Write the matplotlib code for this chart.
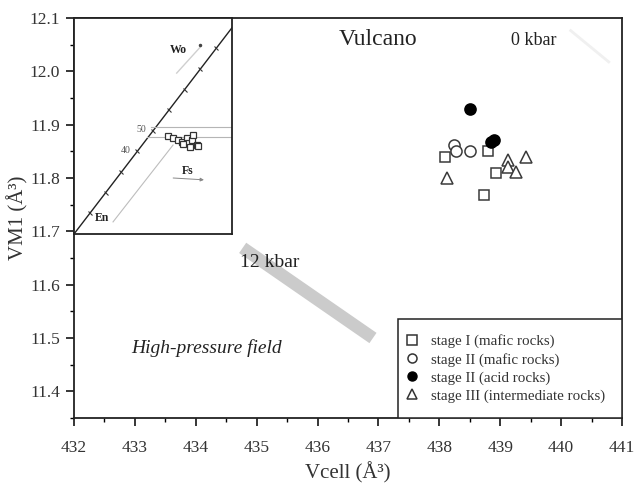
import matplotlib
matplotlib.use("Agg")
import matplotlib.pyplot as plt
from matplotlib.markers import MarkerStyle
from matplotlib.transforms import Affine2D
from matplotlib.patches import Rectangle
from matplotlib.lines import Line2D

plt.rcParams['font.family'] = ['Liberation Serif', 'DejaVu Serif']

# --- clinopyroxene cell parameters: Vcell (Å^3) vs VM1 (Å^3) ---
stage1_mafic_vcell = [438.09, 438.80, 438.93, 438.74]
stage1_mafic_vm1 = [11.839, 11.850, 11.810, 11.769]

stage2_mafic_vcell = [438.24, 438.27, 438.51]
stage2_mafic_vm1 = [11.861, 11.850, 11.850]

stage2_acid_vcell = [438.50, 438.85, 438.90]
stage2_acid_vm1 = [11.929, 11.868, 11.872]

stage3_inter_vcell = [438.12, 439.42, 439.13, 439.13, 439.26]
stage3_inter_vm1 = [11.800, 11.840, 11.833, 11.821, 11.812]

series_labels = ["stage I (mafic rocks)", "stage II (mafic rocks)",
                 "stage II (acid rocks)", "stage III (intermediate rocks)"]

# isobars (Vcell, VM1 end points)
isobar_12kbar_vcell = [434.77, 436.91]
isobar_12kbar_vm1 = [11.669, 11.500]
isobar_0kbar_vcell = [440.14, 440.80]
isobar_0kbar_vm1 = [12.078, 12.016]

x_ticks = [432, 433, 434, 435, 436, 437, 438, 439, 440, 441]
y_ticks = [11.4, 11.5, 11.6, 11.7, 11.8, 11.9, 12.0, 12.1]

# --- inset: pyroxene quadrilateral sketch (relative coordinates) ---
inset_sq_x = [0.595, 0.627, 0.658, 0.684, 0.715, 0.722, 0.747, 0.753, 0.778, 0.785, 0.690, 0.734]
inset_sq_y = [0.454, 0.444, 0.435, 0.426, 0.444, 0.421, 0.435, 0.458, 0.412, 0.407, 0.417, 0.403]
diag_end = (1.0, 0.955)
diag_ticks = [0.1, 0.2, 0.3, 0.4, 0.5, 0.6, 0.7, 0.8, 0.9]
diag_tick_labels = {0.4: "40", 0.5: "50"}

fig = plt.figure(figsize=(6.35, 4.87), dpi=100)
ax = fig.add_axes([74/635, 1-418/487, 548/635, 400/487])

ax.plot(isobar_12kbar_vcell, isobar_12kbar_vm1, color='#cbcbcb', lw=9,
        solid_capstyle='butt', zorder=1)
ax.plot(isobar_0kbar_vcell, isobar_0kbar_vm1, color='#f0f0f0', lw=2.0,
        solid_capstyle='butt', zorder=1)

mk = dict(linestyle='none', markeredgewidth=1.1)
h1, = ax.plot(stage1_mafic_vcell, stage1_mafic_vm1, marker='s', ms=7,
              mfc='white', mec='#3a3a3a', **mk)
h2, = ax.plot(stage2_mafic_vcell, stage2_mafic_vm1, marker='o', ms=8,
              mfc='white', mec='#3a3a3a', **mk)
h3, = ax.plot(stage2_acid_vcell, stage2_acid_vm1, marker='o', ms=8,
              mfc='black', mec='black', **mk)
h4, = ax.plot(stage3_inter_vcell, stage3_inter_vm1, marker='^', ms=8,
              mfc='white', mec='#3a3a3a', **mk)

ax.set_xlim(432, 441)
ax.set_ylim(11.35, 12.1)
ax.set_xticks(x_ticks)
ax.set_xticklabels([str(v) for v in x_ticks])
ax.set_yticks(y_ticks)
ax.set_yticklabels([f"{v:.1f}" for v in y_ticks])
ax.set_xticks([v + 0.5 for v in x_ticks[:-1]], minor=True)
ax.set_yticks([11.35 + 0.1 * i for i in range(8)], minor=True)
ax.tick_params(which='major', direction='out', length=6, width=1.1,
               labelsize=12.5, labelcolor='#333333', top=False, right=False)
ax.tick_params(axis='x', which='major', pad=10)
ax.tick_params(axis='y', which='major', pad=4)
ax.tick_params(which='minor', direction='out', length=3, width=1.0,
               top=False, right=False)
for s in ax.spines.values():
    s.set_linewidth(1.3)
    s.set_color('#222222')

ax.set_xlabel("Vcell (Å³)", fontsize=15, color='#333333', labelpad=4)
ax.set_ylabel("VM1 (Å³)", fontsize=15, color='#333333', labelpad=1)

ax.text(436.99, 12.059, "Vulcano", fontsize=17, ha='center', va='center', color='#222222')
ax.text(439.55, 12.057, "0 kbar", fontsize=13, ha='center', va='center', color='#222222')
ax.text(435.22, 11.641, "12 kbar", fontsize=14, ha='center', va='center', color='#222222')
ax.text(434.18, 11.482, "High-pressure field", fontsize=14, style='italic',
        ha='center', va='center', color='#222222')

# legend with a square black frame in the lower-right corner
lx0 = (398 - 74) / 548
ly1 = (418 - 319) / 400
ax.add_patch(Rectangle((lx0, 0), 1 - lx0, ly1, transform=ax.transAxes,
                       facecolor='white', edgecolor='#222222', lw=1.1, zorder=3))
handles = [Line2D([], [], marker='s', ms=6.5, mfc='white', mec='#333333', mew=1.1, ls='none'),
           Line2D([], [], marker='o', ms=6.5, mfc='white', mec='#333333', mew=1.1, ls='none'),
           Line2D([], [], marker='o', ms=6.5, mfc='black', mec='black', ls='none'),
           Line2D([], [], marker='^', ms=6.5, mfc='white', mec='#333333', mew=1.1, ls='none')]
leg = ax.legend(handles, series_labels, loc='center left',
                bbox_to_anchor=(lx0, ly1 / 2), frameon=False, fontsize=10.8,
                handlelength=1.0, handletextpad=0.8, labelspacing=0.3,
                borderpad=0.2, borderaxespad=0.2)
leg.set_zorder(4)
for t in leg.get_texts():
    t.set_color('#333333')

# --- inset ---
ins = fig.add_axes([74/635, 1-234/487, 158/635, 216/487])
ins.set_xlim(0, 1)
ins.set_ylim(0, 1)
ins.set_xticks([])
ins.set_yticks([])
for s in ins.spines.values():
    s.set_linewidth(1.3)
    s.set_color('#222222')

ins.plot([0, diag_end[0]], [0, diag_end[1]], color='#222222', lw=1.0)
tick_marker = MarkerStyle('_', transform=Affine2D().rotate_deg(143))
ins.plot([t * diag_end[0] for t in diag_ticks], [t * diag_end[1] for t in diag_ticks],
         ls='none', marker=tick_marker, ms=4, mew=0.8, color='#333333')
for t, lab in diag_tick_labels.items():
    ins.text(t * diag_end[0] - 0.04, t * diag_end[1] + 0.005, lab, fontsize=7,
             ha='right', va='center', color='#555555')

ins.plot([0.49, 1.0], [0.495, 0.495], color='#b5b5b5', lw=0.8)
ins.plot([0.46, 1.0], [0.449, 0.449], color='#b5b5b5', lw=0.8)
ins.plot([0.247, 0.627], [0.056, 0.412], color='#bdbdbd', lw=0.8)
ins.plot([0.65, 0.80], [0.745, 0.866], color='#cfcfcf', lw=1.0)
ins.plot([0.80], [0.876], marker='o', ms=1.5, color='#444444')
ins.annotate("", xy=(0.84, 0.25), xytext=(0.61, 0.26),
             arrowprops=dict(arrowstyle='-|>', color='#888888', lw=0.7,
                             mutation_scale=5))

ins.plot(inset_sq_x, inset_sq_y, ls='none', marker='s', ms=5, mfc='white',
         mec='#333333', mew=0.9)

ins.text(0.66, 0.85, "Wo", fontsize=8.5, fontweight='bold', ha='center', va='center', color='#222222')
ins.text(0.72, 0.29, "Fs", fontsize=8.5, fontweight='bold', ha='center', va='center', color='#222222')
ins.text(0.18, 0.074, "En", fontsize=8.5, fontweight='bold', ha='center', va='center', color='#222222')

fig.savefig("out.png", dpi=100)
